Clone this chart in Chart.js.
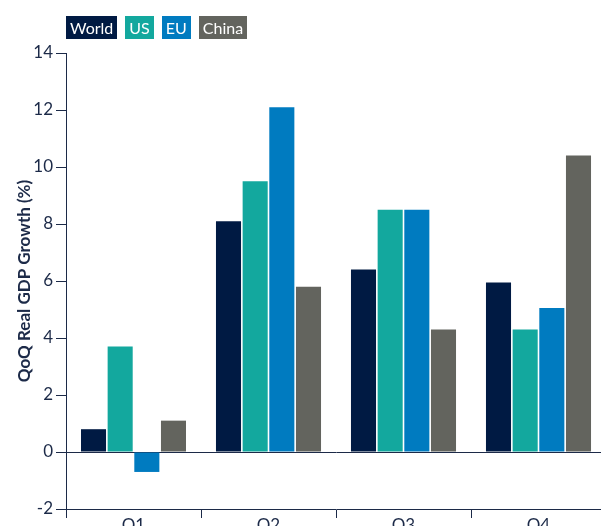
<!DOCTYPE html>
<html>
<head>
<meta charset="utf-8">
<script src="https://cdn.jsdelivr.net/npm/chart.js@4/dist/chart.umd.min.js"></script>
<style>
    html, body { margin: 0; padding: 0; background: #ffffff; }
    .frame { position: relative; width: 601px; height: 526px; overflow: hidden; }
    .chart-box { position: absolute; left: 0; top: 0; width: 610px; height: 539px; }
    .legend { position: absolute; left: 66px; top: 16px; display: flex; gap: 8px; z-index: 2; }
    .legend span {
        display: block; height: 23px; line-height: 23px; padding: 0 4px;
        color: #ffffff; font-family: Lato, "Noto Sans", sans-serif; font-size: 16px;
    }
</style>
</head>
<body>
<div class="frame">
    <div class="legend" id="legend"></div>
    <div class="chart-box"><canvas id="gdpChart" width="610" height="539"></canvas></div>
</div>
<script>
// Quarterly real GDP growth, quarter on quarter (%)
const quarters = ['Q1', 'Q2', 'Q3', 'Q4'];
const seriesNames = ['World', 'US', 'EU', 'China'];
const worldGrowth = [0.8, 8.1, 6.4, 5.95];
const usGrowth = [3.7, 9.5, 8.5, 4.3];
const euGrowth = [-0.7, 12.1, 8.5, 5.05];
const chinaGrowth = [1.1, 5.8, 4.3, 10.4];
const seriesColors = ['#001a43', '#13a89e', '#007bc0', '#63645e'];
const yTicks = [-2, 0, 2, 4, 6, 8, 10, 12, 14];

const ink = '#1c2a48';
const fontFamily = 'Lato, "Noto Sans", sans-serif';

const seriesValues = [worldGrowth, usGrowth, euGrowth, chinaGrowth];

// Boxed legend above the plot
const legendEl = document.getElementById('legend');
seriesNames.forEach((name, i) => {
    const item = document.createElement('span');
    item.textContent = name;
    item.style.background = seriesColors[i];
    legendEl.appendChild(item);
});

const ctx = document.getElementById('gdpChart').getContext('2d');
new Chart(ctx, {
    type: 'bar',
    data: {
        labels: quarters,
        datasets: seriesNames.map((name, i) => ({
            label: name,
            data: seriesValues[i],
            backgroundColor: seriesColors[i],
            borderWidth: 0,
            categoryPercentage: 0.79,
            barPercentage: 0.94
        }))
    },
    options: {
        responsive: false,
        animation: false,
        layout: { padding: { top: 53, right: 4, bottom: 0, left: 0 } },
        plugins: {
            legend: { display: false },
            tooltip: { enabled: false }
        },
        scales: {
            x: {
                grid: {
                    offset: true,
                    drawOnChartArea: false,
                    tickLength: 9,
                    tickColor: ink
                },
                border: { color: ink, width: 1 },
                ticks: {
                    color: ink,
                    padding: -3,
                    font: { family: fontFamily, size: 17 }
                },
                afterFit: (scale) => { scale.height = 30; }
            },
            y: {
                min: -2,
                max: 14,
                afterBuildTicks: (scale) => {
                    scale.ticks = yTicks.map(v => ({ value: v }));
                },
                grid: {
                    color: (c) => (c.tick && c.tick.value === 0 ? ink : 'rgba(0,0,0,0)'),
                    tickColor: ink,
                    tickLength: 10,
                    drawTicks: true
                },
                border: { color: ink, width: 1 },
                ticks: {
                    color: ink,
                    padding: 3,
                    font: { family: fontFamily, size: 17 }
                },
                title: {
                    display: true,
                    text: 'QoQ Real GDP Growth (%)',
                    color: ink,
                    padding: { top: 14, bottom: 0 },
                    font: { family: fontFamily, size: 17, weight: 'bold' }
                },
                afterFit: (scale) => { scale.width = 66; }
            }
        }
    }
});
</script>
</body>
</html>
